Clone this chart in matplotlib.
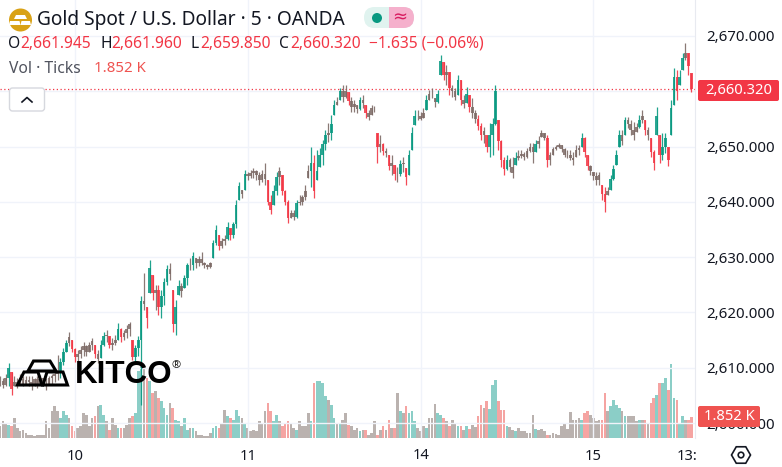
import numpy as np
import matplotlib
matplotlib.use('Agg')
import matplotlib.pyplot as plt
from matplotlib.patches import Circle, FancyBboxPatch, Polygon, Rectangle, RegularPolygon

plt.rcParams['font.family'] = ['Noto Sans', 'DejaVu Sans']

# 5 minute candles, thinned out
highs = [
    2608.5, 2608.2, 2608.9, 2610.9, 2609.2, 2608.5, 2608.2, 2608.9, 2608.5, 2608.5,
    2608.5, 2608.5, 2608.2, 2608.5, 2608.7, 2608.2, 2608.2, 2608.5, 2608.9, 2609.6,
    2612.3, 2611.8, 2613.6, 2615.0, 2616.5, 2615.0, 2613.6, 2613.2, 2614.0, 2614.7,
    2614.1, 2614.7, 2615.4, 2614.1, 2613.2, 2615.0, 2616.5, 2616.8, 2615.8, 2615.4,
    2615.9, 2618.1, 2617.2, 2616.8, 2617.7, 2618.3, 2615.0, 2614.1, 2615.8, 2623.0,
    2627.1, 2621.0, 2629.5, 2626.8, 2625.0, 2625.0, 2624.1, 2626.2, 2628.6, 2629.0,
    2624.1, 2622.3, 2625.9, 2625.3, 2626.8, 2629.0, 2629.9, 2631.0, 2629.9, 2630.2,
    2631.0, 2629.1, 2628.8, 2629.1, 2633.1, 2635.8, 2634.0, 2633.5, 2634.0, 2636.4,
    2635.3, 2636.4, 2640.3, 2643.6, 2642.2, 2645.8, 2645.4, 2645.8, 2646.1, 2645.8,
    2645.4, 2645.8, 2647.0, 2644.0, 2641.3, 2643.1, 2645.4, 2646.3, 2644.9, 2642.2,
    2640.3, 2638.5, 2638.5, 2640.3, 2641.3, 2641.3, 2643.1, 2646.7, 2649.9, 2648.5,
    2649.4, 2649.8, 2651.2, 2653.0, 2654.3, 2655.7, 2658.4, 2659.0, 2660.6, 2661.1,
    2661.1, 2659.9, 2659.0, 2658.4, 2657.5, 2659.0, 2659.3, 2657.5, 2656.6, 2657.5,
    2657.3, 2652.5, 2652.1, 2650.7, 2649.8, 2648.5, 2648.5, 2646.7, 2646.3, 2647.6,
    2648.1, 2646.1, 2649.4, 2653.5, 2656.6, 2656.6, 2656.3, 2657.0, 2659.3, 2660.2,
    2660.6, 2658.8, 2660.2, 2666.6, 2665.3, 2664.8, 2663.5, 2661.1, 2660.6, 2663.0,
    2662.0, 2659.3, 2660.8, 2659.3, 2658.8, 2656.6, 2655.7, 2654.3, 2653.5, 2652.1,
    2654.3, 2655.2, 2661.1, 2654.8, 2651.2, 2648.1, 2648.5, 2647.9, 2648.1, 2649.0,
    2649.4, 2649.4, 2649.0, 2649.8, 2650.7, 2650.7, 2651.2, 2651.9, 2653.0, 2652.5,
    2652.1, 2649.0, 2649.9, 2650.3, 2650.7, 2650.3, 2649.8, 2649.4, 2649.4, 2649.0,
    2650.3, 2650.3, 2652.5, 2651.7, 2648.5, 2646.7, 2645.4, 2645.4, 2645.4, 2643.1,
    2642.7, 2642.7, 2644.9, 2646.7, 2649.4, 2653.0, 2653.0, 2655.4, 2655.4, 2654.8,
    2654.4, 2654.3, 2655.7, 2656.6, 2654.8, 2653.5, 2651.6, 2649.4, 2657.2, 2652.1,
    2652.5, 2652.5, 2649.9, 2658.4, 2664.2, 2663.9, 2663.9, 2666.9, 2668.7, 2666.9,
    2663.3,
]
lows = [
    2606.7, 2606.4, 2606.7, 2606.7, 2605.1, 2606.7, 2606.4, 2606.9, 2606.7, 2607.1,
    2606.7, 2606.0, 2606.7, 2606.4, 2607.1, 2606.7, 2606.0, 2607.1, 2607.1, 2607.5,
    2607.8, 2608.2, 2610.5, 2612.9, 2614.0, 2612.9, 2611.1, 2611.1, 2611.8, 2612.1,
    2612.1, 2612.9, 2613.2, 2611.8, 2610.9, 2611.8, 2614.0, 2614.7, 2613.6, 2613.2,
    2614.1, 2615.0, 2614.7, 2615.0, 2615.4, 2615.8, 2611.4, 2611.1, 2612.1, 2603.3,
    2620.5, 2617.2, 2623.5, 2622.3, 2620.5, 2619.6, 2619.0, 2621.4, 2625.0, 2625.9,
    2616.5, 2615.9, 2623.2, 2622.8, 2624.4, 2625.0, 2627.7, 2627.7, 2628.1, 2628.4,
    2628.6, 2628.1, 2627.9, 2628.1, 2629.9, 2632.2, 2631.3, 2631.7, 2632.2, 2633.1,
    2633.1, 2633.5, 2635.3, 2640.3, 2640.7, 2642.2, 2644.0, 2644.3, 2644.3, 2644.0,
    2643.1, 2643.6, 2643.1, 2639.4, 2637.8, 2639.4, 2641.3, 2643.1, 2641.3, 2639.4,
    2636.2, 2637.1, 2636.7, 2637.1, 2639.4, 2639.4, 2640.3, 2644.3, 2642.7, 2640.7,
    2644.0, 2646.3, 2646.7, 2649.4, 2650.8, 2651.2, 2655.7, 2657.5, 2658.4, 2658.1,
    2658.8, 2657.5, 2656.3, 2656.3, 2656.1, 2656.6, 2657.0, 2655.2, 2654.8, 2655.7,
    2656.3, 2647.0, 2649.0, 2648.5, 2648.1, 2645.8, 2644.9, 2644.0, 2643.6, 2644.7,
    2645.4, 2643.1, 2644.9, 2649.4, 2653.9, 2654.8, 2654.8, 2655.2, 2656.6, 2658.4,
    2658.8, 2657.2, 2657.9, 2663.0, 2662.0, 2661.1, 2659.3, 2659.0, 2658.4, 2659.3,
    2657.5, 2657.0, 2657.9, 2656.3, 2655.2, 2654.3, 2653.0, 2651.2, 2650.7, 2649.0,
    2648.1, 2648.5, 2653.9, 2649.4, 2646.3, 2644.9, 2645.8, 2645.4, 2644.3, 2646.7,
    2647.6, 2648.0, 2647.6, 2648.0, 2649.0, 2647.0, 2649.0, 2649.8, 2651.7, 2651.2,
    2646.3, 2646.7, 2648.5, 2649.4, 2649.8, 2649.0, 2648.1, 2647.9, 2647.6, 2646.7,
    2648.1, 2648.5, 2649.9, 2648.1, 2645.8, 2644.9, 2644.0, 2643.1, 2643.1, 2640.3,
    2638.2, 2641.3, 2642.2, 2644.0, 2646.7, 2649.9, 2650.3, 2652.1, 2653.4, 2652.1,
    2651.2, 2652.6, 2653.4, 2654.3, 2652.1, 2651.2, 2648.1, 2645.8, 2652.1, 2647.0,
    2647.6, 2648.9, 2646.5, 2652.1, 2657.5, 2658.4, 2661.1, 2663.9, 2665.7, 2663.0,
    2659.9,
]
closes = [
    2607.6, 2606.9, 2608.2, 2610.0, 2606.2, 2607.5, 2606.9, 2608.0, 2607.1, 2607.8,
    2607.5, 2607.0, 2607.9, 2607.0, 2608.1, 2607.0, 2607.0, 2608.1, 2608.5, 2608.9,
    2609.0, 2611.0, 2612.8, 2614.5, 2615.5, 2613.4, 2611.9, 2612.5, 2613.2, 2614.0,
    2612.8, 2614.1, 2614.8, 2612.5, 2611.5, 2614.2, 2615.8, 2615.9, 2614.2, 2614.5,
    2615.0, 2617.0, 2615.5, 2616.2, 2617.0, 2617.9, 2612.0, 2613.5, 2615.0, 2622.0,
    2621.5, 2619.0, 2628.0, 2623.5, 2624.0, 2621.0, 2623.0, 2625.5, 2627.8, 2627.0,
    2618.0, 2621.0, 2624.8, 2623.8, 2626.2, 2628.5, 2628.6, 2630.3, 2629.0, 2629.6,
    2629.0, 2628.5, 2628.2, 2628.9, 2632.5, 2634.9, 2632.0, 2633.0, 2633.2, 2635.5,
    2634.0, 2636.0, 2639.5, 2642.8, 2641.5, 2645.0, 2644.6, 2645.2, 2645.6, 2644.8,
    2644.0, 2645.0, 2644.2, 2640.0, 2638.5, 2642.0, 2644.5, 2645.5, 2642.0, 2640.0,
    2637.0, 2638.0, 2637.3, 2639.8, 2640.0, 2640.8, 2642.0, 2645.5, 2647.0, 2642.0,
    2645.5, 2648.5, 2650.5, 2652.0, 2652.5, 2654.0, 2657.5, 2658.0, 2660.0, 2659.0,
    2660.0, 2658.3, 2657.2, 2657.7, 2656.8, 2658.4, 2657.8, 2656.0, 2655.3, 2656.9,
    2657.0, 2650.0, 2650.5, 2649.2, 2648.8, 2646.5, 2647.0, 2645.0, 2645.0, 2646.8,
    2647.0, 2644.5, 2648.5, 2652.5, 2655.5, 2655.5, 2655.0, 2656.0, 2658.5, 2659.5,
    2659.5, 2658.0, 2659.5, 2665.5, 2663.0, 2663.5, 2660.5, 2660.0, 2659.0, 2662.0,
    2658.5, 2657.7, 2659.5, 2657.2, 2656.0, 2655.0, 2653.7, 2652.0, 2652.8, 2650.0,
    2652.0, 2654.0, 2660.0, 2651.0, 2647.5, 2646.0, 2647.5, 2646.3, 2645.2, 2648.0,
    2648.3, 2648.7, 2648.2, 2649.2, 2650.0, 2649.0, 2650.5, 2651.0, 2652.5, 2651.6,
    2647.5, 2648.5, 2649.6, 2650.0, 2650.2, 2649.5, 2648.5, 2648.5, 2648.0, 2647.5,
    2649.3, 2649.8, 2651.5, 2649.0, 2646.5, 2645.5, 2644.6, 2644.0, 2644.8, 2641.5,
    2640.0, 2642.0, 2644.2, 2646.0, 2648.5, 2652.0, 2651.0, 2654.8, 2654.0, 2653.0,
    2652.0, 2653.5, 2654.8, 2655.5, 2653.0, 2652.0, 2649.0, 2647.0, 2655.5, 2648.5,
    2650.0, 2651.5, 2647.5, 2657.0, 2662.5, 2660.0, 2662.5, 2666.0, 2667.0, 2664.5,
    2660.32,
]
# tick volume in thousands
volumes = [
    1.06, 1.50, 1.32, 1.15, 1.06, 1.76, 0.88, 0.62, 0.71, 0.44, 0.26, 0.26, 0.18, 0.26, 0.26, 0.26, 1.50, 0.88, 2.38, 2.82,
    2.38, 1.76, 2.38, 2.03, 1.76, 1.06, 0.62, 0.88, 1.06, 2.20, 2.03, 1.06, 1.76, 1.94, 2.82, 2.91, 2.03, 1.50, 0.71, 1.76,
    1.15, 0.88, 0.88, 0.88, 1.15, 1.76, 1.94, 2.20, 5.91, 6.53, 6.35, 5.29, 5.03, 3.97, 4.14, 3.53, 3.26, 2.65, 2.03, 3.09,
    2.65, 1.59, 1.50, 1.06, 1.76, 0.71, 0.88, 0.88, 0.62, 0.26, 0.26, 0.18, 0.18, 0.44, 0.88, 1.06, 0.88, 1.32, 2.47, 1.94,
    1.76, 1.59, 2.47, 1.94, 1.76, 1.32, 0.88, 0.62, 0.71, 0.62, 1.50, 1.32, 2.38, 3.09, 2.38, 1.50, 2.03, 1.50, 1.06, 1.32,
    1.50, 1.32, 0.88, 0.71, 1.50, 1.06, 1.06, 2.20, 1.50, 4.85, 5.03, 5.03, 4.85, 3.70, 3.35, 2.91, 1.76, 1.32, 1.32, 1.59,
    2.20, 1.15, 1.06, 0.71, 0.88, 0.62, 0.71, 0.71, 0.26, 0.44, 1.50, 0.26, 0.71, 1.06, 0.71, 1.59, 0.88, 0.88, 3.97, 2.38,
    2.20, 2.82, 2.20, 2.38, 1.50, 0.88, 0.62, 1.06, 0.88, 1.76, 1.76, 3.00, 2.20, 2.03, 1.76, 1.50, 1.06, 1.59, 1.32, 1.06,
    1.06, 0.71, 1.06, 0.79, 1.15, 0.97, 1.94, 2.91, 2.65, 3.26, 2.56, 4.67, 5.11, 3.26, 2.47, 2.47, 1.06, 0.97, 0.71, 0.62,
    0.88, 0.62, 0.62, 0.44, 0.44, 2.03, 0.79, 0.71, 0.79, 0.62, 0.26, 0.26, 0.44, 0.35, 0.26, 1.06, 1.32, 0.79, 2.29, 1.59,
    1.59, 1.76, 1.59, 2.20, 2.38, 2.03, 1.76, 1.50, 1.59, 1.59, 3.97, 2.38, 2.82, 3.35, 2.91, 2.65, 2.38, 1.94, 1.94, 1.94,
    1.94, 1.50, 1.59, 1.59, 1.59, 1.32, 3.09, 3.53, 3.79, 4.85, 4.85, 5.29, 4.23, 6.53, 3.53, 3.35, 1.32, 1.94, 1.59, 1.59, 1.852,
]
price_ticks = [2600, 2610, 2620, 2630, 2640, 2650, 2660, 2670]
day_ticks = [26, 86, 146, 206]
day_labels = ['10', '11', '', '15']
last_tick = 238.6
last_label = '13:'

TEAL = '#089981'
RED = '#f23645'
MIXED = '#7d6a66'
GRID = '#f0f3fa'
TEXT = '#131722'

highs = np.array(highs)
lows = np.array(lows)
closes = np.array(closes)
volumes = np.array(volumes)
x = np.arange(len(closes))
opens = np.clip(np.r_[closes[0], closes[:-1]], lows, highs)
up = closes >= opens
# at this zoom small bars overlap and read grey-brown, only big moves keep their colour
small = np.abs(closes - opens) < 1.3

W, H = 782, 467
fig = plt.figure(figsize=(W / 100, H / 100), dpi=100, facecolor='white')

# price pane, right axis
ax = fig.add_axes([0, 29 / H, 695 / W, 438 / H])
ax.set_xlim(0, 241.3)
ax.set_ylim(2597.3, 2676.5)
for p in price_ticks:
    ax.axhline(p, color=GRID, lw=1, zorder=0)
for d in day_ticks:
    ax.axvline(d, color=GRID, lw=1, zorder=0)

# volume shares the pane, on its own scale
vol = ax.twinx()
vol.set_ylim(0, 38.6)
vol.set_zorder(1)
vol.axis('off')
vol_colors = np.where(small, '#b3aaa7', np.where(up, '#7fc9c1', '#f49a98'))
vol.bar(x, volumes, width=0.92, color=vol_colors, alpha=0.9, lw=0)

ax.set_zorder(2)
ax.patch.set_visible(False)
colors = np.where(small, MIXED, np.where(up, TEAL, RED))
ax.vlines(x, lows, highs, colors=colors, lw=0.9, alpha=0.9, zorder=3)
ax.bar(x, np.abs(closes - opens), bottom=np.minimum(opens, closes), width=0.9,
       color=colors, alpha=0.85, lw=0, zorder=3)
ax.axhline(closes[-1], color=RED, lw=0.9, ls=(0, (1, 2)), zorder=2)

ax.yaxis.tick_right()
ax.set_yticks(price_ticks)
# the 2,660 label sits behind the last price tag in the original
ax.set_yticklabels(['' if p == 2660 else f'{p:,.3f}' for p in price_ticks], fontsize=10.8, color=TEXT)
ax.set_xticks(day_ticks + [last_tick])
ax.set_xticklabels(day_labels + [last_label], fontsize=10.6, color=TEXT)
ax.tick_params(length=0)
ax.tick_params(axis='y', pad=8)
ax.tick_params(axis='x', pad=8)
for side in ['top', 'left', 'bottom']:
    ax.spines[side].set_visible(False)
ax.spines['right'].set_color('#e8eaf0')

# chrome drawn on top in pixel coordinates
top = fig.add_axes([0, 0, 1, 1], zorder=5)
top.set_xlim(0, W)
top.set_ylim(H, 0)
top.axis('off')

# week start label is bold
top.text(421, 455.5, '14', fontsize=10.6, fontweight='bold', color=TEXT, ha='center', va='center')

# gold icon
top.add_patch(Circle((20.5, 20), 11.5, color='#d9a216', lw=0))
for pts in [[(16, 15), (25, 15), (27, 19), (14, 19)],
            [(10, 21), (19.5, 21), (20.5, 25), (9, 25)],
            [(21.5, 21), (30, 21), (31, 25), (20.5, 25)]]:
    top.add_patch(Polygon(pts, color='white', lw=0))

top.text(37, 20, 'Gold Spot / U.S. Dollar · 5 · OANDA', fontsize=13.8, color=TEXT, va='center')

# market status pill
top.add_patch(FancyBboxPatch((364, 7), 50, 21, boxstyle='round,pad=0,rounding_size=10.5',
                             fc='#e0f3ef', lw=0))
pink = FancyBboxPatch((364, 7), 50, 21, boxstyle='round,pad=0,rounding_size=10.5',
                      fc='#f5b0cc', lw=0)
top.add_patch(pink)
pink.set_clip_path(Rectangle((389, 0), 40, 40, transform=top.transData))
top.add_patch(Circle((377, 18), 5, color=TEAL, lw=0))
top.text(400, 17.5, '≈', fontsize=13, color='#d81b60', ha='center', va='center')

# OHLC line
for px, s, c in [(8, 'O', TEXT), (20, '2,661.945', RED), (100, 'H', TEXT), (111, '2,661.960', RED),
                 (191, 'L', TEXT), (200, '2,659.850', RED), (279, 'C', TEXT), (290, '2,660.320', RED),
                 (369, '−1.635 (−0.06%)', RED)]:
    top.text(px, 43.5, s, fontsize=11.2, color=c, va='center')

top.text(9, 69, 'Vol · Ticks', fontsize=11.3, color='#50535e', va='center')
top.text(94, 69, '1.852 K', fontsize=10.8, color='#ef5350', va='center')

# collapse button
top.add_patch(FancyBboxPatch((9.5, 88), 35, 23, boxstyle='round,pad=0,rounding_size=3',
                             fc='white', ec='#d6d8de', lw=1))
top.plot([22, 27, 32], [102, 97.5, 102], color=TEXT, lw=1.2)

# last value tags
top.add_patch(FancyBboxPatch((698, 80), 81, 21, boxstyle='round,pad=0,rounding_size=2', fc=RED, lw=0))
top.text(739, 90.5, f'{closes[-1]:,.3f}', fontsize=10.6, fontweight='bold', color='white',
         ha='center', va='center')
top.add_patch(FancyBboxPatch((698, 406), 62, 21, boxstyle='round,pad=0,rounding_size=2', fc='#ef5350', lw=0))
top.text(729, 416.5, '1.852 K', fontsize=10.6, fontweight='bold', color='white', ha='center', va='center')

# settings icon
top.add_patch(RegularPolygon((741, 455), 6, radius=9.5, orientation=np.pi / 2, fc='none', ec=TEXT, lw=1.2))
top.add_patch(Circle((741, 455), 2.8, fc='none', ec=TEXT, lw=1.2))

# watermark
for pts in [[(33.5, 361), (50, 361), (56, 371), (28, 371)],
            [(24, 372), (38, 372), (42, 385), (17.5, 385)],
            [(47, 372), (63, 372), (67.5, 385), (43, 385)]]:
    top.add_patch(Polygon(pts, fc='none', ec='black', lw=2.2, joinstyle='miter'))
top.text(75, 375, 'KITCO', fontsize=22.6, fontweight='bold', family='Liberation Sans', color='black', va='center')
top.text(176, 365.5, '®', fontsize=8, color='#222222', ha='center', va='center')

fig.savefig('out.png', dpi=100)
